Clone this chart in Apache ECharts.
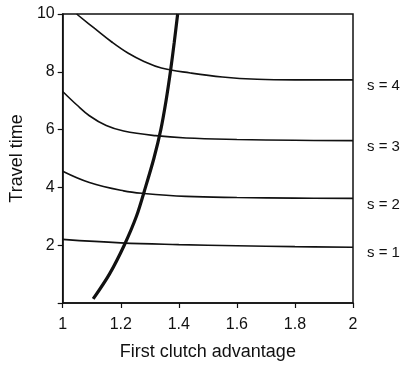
<!DOCTYPE html>
<html><head><meta charset="utf-8">
<script src="https://cdn.jsdelivr.net/npm/echarts@6/dist/echarts.min.js"></script>
<style>html,body{margin:0;padding:0;background:#fff}#c{width:402px;height:366px}</style>
</head><body><div id="c"></div>
<script>
// Data
var s1X = [1, 1.2, 1.4, 1.6, 1.8, 2];
var s1Y = [2.2, 2.08, 2.02, 1.98, 1.95, 1.93];
var s2X = [1, 1.092, 1.21, 1.28, 1.425, 1.6, 1.8, 2];
var s2Y = [4.56, 4.17, 3.88, 3.79, 3.69, 3.65, 3.63, 3.62];
var s3X = [1, 1.048, 1.092, 1.15, 1.21, 1.32, 1.425, 1.6, 1.8, 2];
var s3Y = [7.32, 6.86, 6.48, 6.14, 5.95, 5.79, 5.71, 5.66, 5.63, 5.62];
var s4X = [1.048, 1.11, 1.168, 1.226, 1.28, 1.34, 1.44, 1.55, 1.67, 1.8, 2];
var s4Y = [10, 9.5, 9.04, 8.64, 8.36, 8.13, 7.96, 7.82, 7.74, 7.72, 7.72];
var optX = [1.105, 1.161, 1.212, 1.254, 1.285, 1.314, 1.338, 1.356, 1.371, 1.384, 1.396];
var optY = [0.14, 1, 2, 3, 4, 5, 6, 7, 8, 9, 10];
var curveNames = ['s = 1', 's = 2', 's = 3', 's = 4'];
var xTicks = {min: 1, max: 2, step: 0.2};
var yTicks = {min: 0, max: 10, step: 2};
var xTitle = 'First clutch advantage';
var yTitle = 'Travel time';

function pairs(xs, ys){ return xs.map(function(x,i){ return [x, ys[i]]; }); }
var FONT = 'Liberation Sans';
var INK = '#111';

function thin(name, xs, ys){
  return {
    type: 'line', name: name, data: pairs(xs, ys), smooth: 0.4, symbol: 'none',
    lineStyle: {color: INK, width: 1.6}, animation: false, silent: true,
    endLabel: {show: true, formatter: name, color: INK, fontFamily: FONT, fontSize: 15,
      distance: 14, offset: [0, 6]}
  };
}

var chart = echarts.init(document.getElementById('c'), null, {renderer: 'canvas'});
chart.setOption({
  animation: false,
  grid: {left: 61, right: 49, top: 14, bottom: 62, show: true, borderColor: INK, borderWidth: 1.5, backgroundColor: 'transparent'},
  xAxis: {
    type: 'value', min: xTicks.min, max: xTicks.max, interval: xTicks.step,
    name: xTitle, nameLocation: 'middle', nameGap: 40,
    nameTextStyle: {color: INK, fontFamily: FONT, fontSize: 18},
    axisLine: {show: true, lineStyle: {color: INK, width: 1.5}},
    axisTick: {show: true, inside: false, length: 5, lineStyle: {color: INK, width: 1.2}},
    axisLabel: {color: INK, fontFamily: FONT, fontSize: 16, margin: 14,
      formatter: function(v){ return String(Math.round(v*10)/10); }},
    splitLine: {show: false}
  },
  yAxis: {
    type: 'value', min: yTicks.min, max: yTicks.max, interval: yTicks.step,
    name: yTitle, nameLocation: 'middle', nameGap: 35, nameRotate: 90,
    nameTextStyle: {color: INK, fontFamily: FONT, fontSize: 18},
    axisLine: {show: true, lineStyle: {color: INK, width: 1.5}},
    axisTick: {show: true, inside: false, length: 5, lineStyle: {color: INK, width: 1.2}},
    axisLabel: {color: INK, fontFamily: FONT, fontSize: 16, margin: 8,
      formatter: function(v){ return v === 0 ? '' : String(v); }},
    splitLine: {show: false}
  },
  series: [
    thin(curveNames[0], s1X, s1Y),
    thin(curveNames[1], s2X, s2Y),
    thin(curveNames[2], s3X, s3Y),
    thin(curveNames[3], s4X, s4Y),
    {type: 'line', name: 'optimum', data: pairs(optX, optY), smooth: 0.3, symbol: 'none',
     lineStyle: {color: INK, width: 3.2}, animation: false, silent: true}
  ]
});
</script></body></html>
